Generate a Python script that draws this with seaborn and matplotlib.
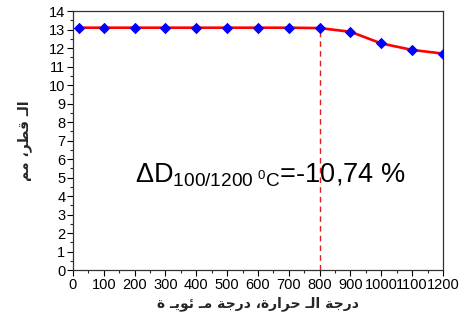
import matplotlib

matplotlib.use("Agg")
import matplotlib.pyplot as plt
import pandas as pd
import seaborn as sns
from matplotlib.ticker import MultipleLocator

temperatures = [20, 100, 200, 300, 400, 500, 600, 700, 800, 900, 1000, 1100, 1200]
diameters = [13.1, 13.1, 13.1, 13.1, 13.1, 13.1, 13.1, 13.1, 13.08, 12.88, 12.25, 11.9, 11.7]
x_ticks = [0, 100, 200, 300, 400, 500, 600, 700, 800, 900, 1000, 1100, 1200]
y_ticks = list(range(0, 15))
x_label = "درجة الـ حرارة، درجة مـ ئويـ ة"
y_label = "الـ قطر، مم"
note = r"$\Delta\mathrm{D}_{100/1200\ {}^{0}\mathrm{C}}$=-10,74 %"
mark_temp = 800

# minimal arabic shaping (matplotlib has no complex text layout)
# forms: isolated, final, initial, medial
FORMS = {
    "ا": ("\uFE8D", "\uFE8E", None, None),
    "د": ("\uFEA9", "\uFEAA", None, None),
    "ر": ("\uFEAD", "\uFEAE", None, None),
    "ة": ("\uFE93", "\uFE94", None, None),
    "و": ("\uFEED", "\uFEEE", None, None),
    "ج": ("\uFE9D", "\uFE9E", "\uFE9F", "\uFEA0"),
    "ح": ("\uFEA1", "\uFEA2", "\uFEA3", "\uFEA4"),
    "ل": ("\uFEDD", "\uFEDE", "\uFEDF", "\uFEE0"),
    "م": ("\uFEE1", "\uFEE2", "\uFEE3", "\uFEE4"),
    "ئ": ("\uFE89", "\uFE8A", "\uFE8B", "\uFE8C"),
    "ي": ("\uFEF1", "\uFEF2", "\uFEF3", "\uFEF4"),
    "ق": ("\uFED5", "\uFED6", "\uFED7", "\uFED8"),
    "ط": ("\uFEC1", "\uFEC2", "\uFEC3", "\uFEC4"),
    "ـ": ("\u0640", "\u0640", "\u0640", "\u0640"),
}


def dual(c):
    return c in FORMS and FORMS[c][2] is not None


def joins_prev(c):
    return c in FORMS


def shape(text):
    out = []
    i = 0
    while i < len(text):
        c = text[i]
        if c not in FORMS:
            out.append(c)
            i += 1
            continue
        prev = i > 0 and dual(text[i - 1]) and joins_prev(c)
        if c == "ل" and i + 1 < len(text) and text[i + 1] == "ا":
            out.append("\uFEFC" if prev else "\uFEFB")
            i += 2
            continue
        nxt = dual(c) and i + 1 < len(text) and joins_prev(text[i + 1])
        iso, fin, ini, med = FORMS[c]
        if prev and nxt:
            out.append(med)
        elif prev:
            out.append(fin)
        elif nxt:
            out.append(ini)
        else:
            out.append(iso)
        i += 1
    return "".join(out)[::-1]


df = pd.DataFrame({"temp": temperatures, "diam": diameters})

sns.set_theme(style="ticks")
plt.rcParams["font.family"] = ["Liberation Sans", "DejaVu Sans"]
plt.rcParams["mathtext.fontset"] = "custom"
plt.rcParams["mathtext.rm"] = "Liberation Sans"
plt.rcParams["mathtext.it"] = "Liberation Sans:italic"

fig = plt.figure(figsize=(4.59, 3.25), dpi=100)
ax = fig.add_axes([0.159, 0.169, 0.806, 0.797])

sns.lineplot(data=df, x="temp", y="diam", color="red", linewidth=1.9, ax=ax)
sns.scatterplot(data=df, x="temp", y="diam", marker="D", color="blue", s=34,
                edgecolor="blue", linewidth=0, zorder=3, ax=ax)
ax.vlines(mark_temp, 0, df.loc[df.temp == mark_temp, "diam"].iloc[0],
          colors="#e02020", linestyles=(0, (4, 3)), linewidth=1.0)

ax.set_xlim(0, 1200)
ax.set_ylim(0, 14)
ax.set_xticks(x_ticks)
ax.set_yticks(y_ticks)
ax.xaxis.set_minor_locator(MultipleLocator(50))
ax.yaxis.set_minor_locator(MultipleLocator(0.5))
ax.tick_params(which="major", length=4, width=0.8, labelsize=10.5, pad=1.5, colors="black")
ax.tick_params(which="minor", length=2, width=0.8)
for s in ax.spines.values():
    s.set_linewidth(0.9)
    s.set_color("#333333")

ax.set_xlabel(shape(x_label), fontsize=10, fontweight="bold", family=["DejaVu Sans"], labelpad=3)
ax.set_ylabel(shape(y_label), fontsize=10, fontweight="bold", family=["DejaVu Sans"], labelpad=12)

ax.text(200, 4.75, note, fontsize=19.5, color="black")

fig.savefig("out.png", dpi=100)
